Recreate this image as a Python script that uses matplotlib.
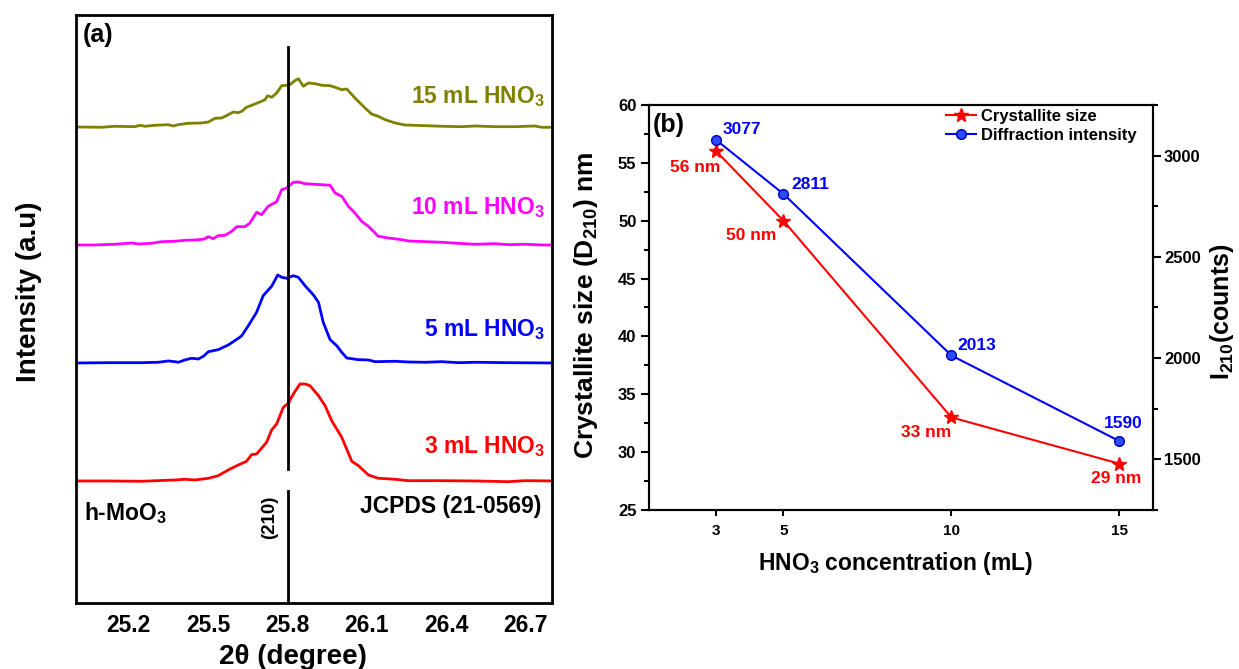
import matplotlib
matplotlib.use('Agg')
import matplotlib.pyplot as plt
from matplotlib.ticker import MultipleLocator, FixedLocator

plt.rcParams['font.family'] = ['Liberation Sans', 'DejaVu Sans']
plt.rcParams['font.weight'] = 'bold'
plt.rcParams['mathtext.fontset'] = 'custom'
plt.rcParams['mathtext.rm'] = 'Liberation Sans:bold'
plt.rcParams['mathtext.it'] = 'Liberation Sans:bold'
plt.rcParams['mathtext.bf'] = 'Liberation Sans:bold'

# ---- panel (a): XRD (210) peak ----
tt_15 = [25.002, 25.097, 25.147, 25.223, 25.242, 25.261, 25.299, 25.349, 25.368, 25.387,
         25.425, 25.475, 25.501, 25.526, 25.551, 25.576, 25.595, 25.614, 25.627, 25.645,
         25.677, 25.702, 25.715, 25.725, 25.740, 25.759, 25.778, 25.797, 25.809, 25.828,
         25.841, 25.860, 25.879, 25.904, 25.929, 25.961, 25.980, 26.005, 26.024, 26.055,
         26.093, 26.118, 26.143, 26.169, 26.207, 26.244, 26.320, 26.383, 26.459, 26.509,
         26.585, 26.660, 26.736, 26.761, 26.805]
i_15 = [0, -0.3, 0.7, 0.3, 1.7, 0.7, 1.7, 2.3, 1.0, 2.3,
        3.7, 4.0, 5.0, 8.7, 9.0, 12.3, 15.0, 14.3, 15.7, 19.7,
        23.0, 25.7, 27.3, 31.3, 29.7, 34.0, 41.3, 41.7, 42.3, 46.3,
        48.3, 40.7, 44.0, 43.3, 41.7, 41.3, 39.7, 37.3, 38.0, 29.0,
        19.0, 13.0, 10.7, 7.3, 4.0, 2.0, 1.3, 0.7, 0.3, 1.0,
        0.3, 0.3, 1.0, -0.3, -0.3]

tt_10 = [25.002, 25.072, 25.147, 25.211, 25.236, 25.286, 25.324, 25.374, 25.412, 25.450,
         25.482, 25.501, 25.519, 25.538, 25.564, 25.589, 25.608, 25.639, 25.658, 25.683,
         25.702, 25.727, 25.759, 25.778, 25.797, 25.822, 25.841, 25.866, 25.904, 25.961,
         25.980, 26.005, 26.030, 26.055, 26.080, 26.106, 26.131, 26.143, 26.181, 26.232,
         26.257, 26.383, 26.509, 26.585, 26.635, 26.698, 26.761, 26.805]
i_10 = [0, 0, 0.7, 2.0, 1.0, 1.7, 3.3, 3.7, 4.7, 5.0,
        5.7, 8.3, 6.3, 9.3, 9.7, 13.7, 18.3, 18.3, 22.0, 32.7,
        30.3, 38.7, 43.3, 55.3, 57.0, 62.7, 63.0, 61.3, 60.7, 59.7,
        52.0, 48.7, 38.7, 32.0, 23.7, 18.7, 12.0, 8.7, 7.0, 5.3,
        4.0, 2.7, 0.7, 1.3, 0.3, 0.7, 0, 0]

tt_5 = [25.002, 25.122, 25.248, 25.311, 25.349, 25.374, 25.387, 25.412, 25.437, 25.463,
        25.482, 25.501, 25.538, 25.576, 25.614, 25.627, 25.652, 25.683, 25.708, 25.740,
        25.763, 25.778, 25.797, 25.822, 25.841, 25.866, 25.898, 25.917, 25.935, 25.961,
        25.986, 26.005, 26.024, 26.068, 26.106, 26.131, 26.207, 26.257, 26.320, 26.383,
        26.446, 26.509, 26.635, 26.805]
i_5 = [0, 0.3, 0.3, 0.7, 2.0, 1.3, 0.7, 3.0, 4.7, 4.0,
       6.7, 11.3, 13.3, 18.0, 24.7, 27.3, 37.3, 50.7, 67.3, 76.7,
       88.0, 85.7, 84.7, 87.3, 85.7, 77.3, 68.0, 60.7, 40.7, 23.3,
       17.3, 10.7, 5.0, 3.3, 3.0, 1.3, 1.7, 1.0, 0.7, 1.3,
       0.3, 0.7, 0.3, 0]

tt_3 = [25.002, 25.122, 25.248, 25.374, 25.412, 25.450, 25.501, 25.538, 25.576, 25.614,
        25.645, 25.664, 25.683, 25.721, 25.740, 25.759, 25.784, 25.803, 25.822, 25.847,
        25.866, 25.885, 25.917, 25.942, 25.967, 26.005, 26.043, 26.068, 26.106, 26.143,
        26.207, 26.257, 26.383, 26.509, 26.635, 26.698, 26.805]
i_3 = [0, 0, -0.3, 1.0, 1.7, 1.0, 2.7, 5.3, 11.0, 16.0,
       19.7, 26.3, 27.0, 38.7, 51.0, 57.0, 73.7, 77.7, 87.0, 97.0,
       97.0, 95.3, 85.3, 75.3, 60.3, 43.7, 19.7, 15.3, 6.0, 2.7,
       1.7, 0.3, 0.3, 0, -0.7, 0.3, 0]

labels_a = ['3 mL HNO$_3$', '5 mL HNO$_3$', '10 mL HNO$_3$', '15 mL HNO$_3$']
colors_a = ['#ff0000', '#0000ff', '#ff00ff', '#808000']
offsets_a = [122, 240, 358, 476]
label_y_a = [156, 273, 395, 506]
ref_peak = 25.8   # JCPDS 21-0569, (210)

# ---- panel (b) ----
conc = [3, 5, 10, 15]
size_nm = [56, 50, 33, 29]
intensity = [3077, 2811, 2013, 1590]

fig = plt.figure(figsize=(12.39, 6.69), dpi=100)

ax = fig.add_axes([0.0613, 0.0987, 0.3842, 0.8789])
curves = [(tt_3, i_3), (tt_5, i_5), (tt_10, i_10), (tt_15, i_15)]
for (tt, ii), off, c, lab, ly in zip(curves, offsets_a, colors_a, labels_a, label_y_a):
    ax.plot(tt, [v + off for v in ii], color=c, lw=2)
    ax.text(0.985, ly, lab, color=c, fontsize=16.5, ha='right', va='center',
            transform=ax.get_yaxis_transform())
ax.plot([ref_peak, ref_peak], [134, 556], color='black', lw=2)
ax.plot([ref_peak, ref_peak], [0, 112], color='black', lw=2)
ax.set_xlim(25.0, 26.8)
ax.set_ylim(0, 588)
ax.set_xticks([25.2, 25.5, 25.8, 26.1, 26.4, 26.7])
ax.set_yticks([])
ax.tick_params(axis='x', length=0, pad=8, labelsize=16.5)
for sp in ax.spines.values():
    sp.set_linewidth(2)
ax.text(0.014, 0.966, '(a)', fontsize=18, transform=ax.transAxes, ha='left', va='center')
ax.text(0.017, 90, 'h-MoO$_3$', fontsize=16.5, ha='left', va='center',
        transform=ax.get_yaxis_transform())
ax.text(0.977, 96, 'JCPDS (21-0569)', fontsize=16.5, ha='right', va='center',
        transform=ax.get_yaxis_transform())
ax.text(25.733, 86, '(210)', fontsize=13.5, rotation=90, ha='center', va='center')
ax.text(0.456, -0.092, '2θ (degree)', fontsize=20, ha='center', va='center',
        transform=ax.transAxes)
ax.text(-0.099, 0.53, 'Intensity (a.u)', fontsize=20, rotation=90, ha='center',
        va='center', transform=ax.transAxes)

# panel (b)
bx = fig.add_axes([0.5238, 0.2377, 0.4068, 0.6054])
rx = bx.twinx()
h1, = bx.plot(conc, size_nm, color='red', marker='*', ms=10, lw=1.5,
              label='Crystallite size')
h2, = rx.plot(conc, intensity, color='blue', marker='o', ms=7, mfc='#2a4bff',
              mec='#0000b0', lw=1.5, label='Diffraction intensity')
bx.set_xlim(1, 16)
bx.set_ylim(25, 60)
rx.set_ylim(1250, 3250)
bx.xaxis.set_major_locator(FixedLocator(conc))
bx.yaxis.set_major_locator(MultipleLocator(5))
bx.yaxis.set_minor_locator(MultipleLocator(2.5))
rx.yaxis.set_major_locator(MultipleLocator(500))
rx.yaxis.set_minor_locator(MultipleLocator(250))
bx.tick_params(axis='y', which='major', length=6, width=1.5, labelsize=12, pad=3)
bx.tick_params(axis='y', which='minor', length=3.5, width=1.5)
bx.tick_params(axis='x', length=4, width=1.5, labelsize=11, pad=6)
rx.tick_params(axis='y', which='major', length=6, width=1.5, labelsize=12, pad=2)
rx.tick_params(axis='y', which='minor', length=3.5, width=1.5)
for a in (bx, rx):
    for sp in a.spines.values():
        sp.set_linewidth(1.5)

red_txt = [('56 nm', 2.9, -12, 'right'), ('50 nm', -5, -11, 'right'),
           ('33 nm', 0, -11, 'right'), ('29 nm', -2, -11, 'center')]
blue_off = [(4.3, 7.2, 'left'), (5.8, 6.5, 'left'), (4.3, 7.2, 'left'), (2.9, 13, 'center')]
for xc, yv, (t, dx, dy, ha) in zip(conc, size_nm, red_txt):
    bx.annotate(t, (xc, yv), xytext=(dx, dy), textcoords='offset points',
                color='red', fontsize=12.5, ha=ha, va='center')
for xc, yv, (dx, dy, ha) in zip(conc, intensity, blue_off):
    rx.annotate(str(yv), (xc, yv), xytext=(dx, dy), textcoords='offset points',
                color='blue', fontsize=12.5, ha=ha, va='center')

rx.legend(handles=[h1, h2], loc='upper left', bbox_to_anchor=(0.59, 0.99),
          frameon=False, fontsize=12, handlelength=1.8, handletextpad=0.3,
          labelspacing=0.25, borderpad=0, borderaxespad=0)
bx.text(0.008, 0.95, '(b)', fontsize=18, transform=bx.transAxes, ha='left', va='center')
bx.text(0.49, -0.131, 'HNO$_3$ concentration (mL)', fontsize=16.5, ha='center',
        va='center', transform=bx.transAxes)
bx.text(-0.125, 0.506, 'Crystallite size (D$_{210}$) nm', fontsize=19, rotation=90,
        ha='center', va='center', transform=bx.transAxes)
bx.text(1.137, 0.49, 'I$_{210}$(counts)', fontsize=18, rotation=90,
        ha='center', va='center', transform=bx.transAxes)

fig.savefig('out.png', dpi=100)
